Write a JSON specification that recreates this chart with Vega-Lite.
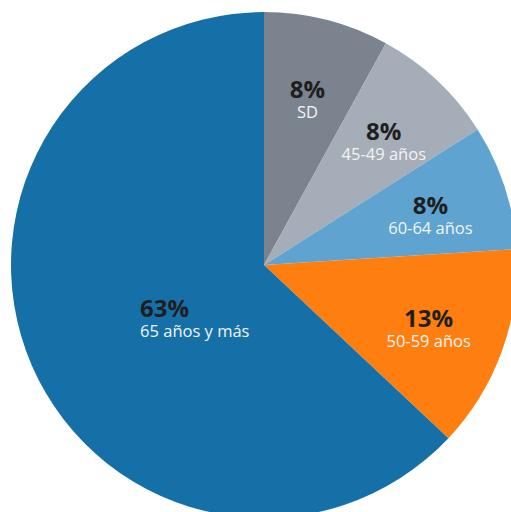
{
  "$schema": "https://vega.github.io/schema/vega-lite/v6.json",
  "width": 528,
  "height": 530,
  "padding": 0,
  "autosize": {"type": "none"},
  "background": "white",
  "view": {"stroke": null},
  "data": {
    "values": [
      {"grupo": "SD", "pct": 8, "orden": 1},
      {"grupo": "45-49 años", "pct": 8, "orden": 2},
      {"grupo": "60-64 años", "pct": 8, "orden": 3},
      {"grupo": "50-59 años", "pct": 13, "orden": 4},
      {"grupo": "65 años y más", "pct": 63, "orden": 5}
    ]
  },
  "transform": [{"calculate": "datum.pct + '%'", "as": "pctLabel"}],
  "encoding": {
    "theta": {"field": "pct", "type": "quantitative", "stack": true},
    "order": {"field": "orden", "type": "quantitative"}
  },
  "layer": [
    {
      "mark": {"type": "arc", "outerRadius": 253, "stroke": null},
      "encoding": {
        "color": {
          "field": "grupo",
          "type": "nominal",
          "scale": {
            "domain": ["SD", "45-49 años", "60-64 años", "50-59 años", "65 años y más"],
            "range": ["#7b838e", "#a4adb8", "#5fa3d0", "#fe7f0f", "#1570a8"]
          },
          "legend": null
        }
      }
    },
    {
      "mark": {"type": "text", "radius": 175, "font": "Open Sans", "fontSize": 24, "fontWeight": "bold", "color": "#1f1f1f", "dy": -4, "baseline": "middle", "align": "center"},
      "encoding": {
        "text": {"condition": {"test": "datum.pct < 50", "field": "pctLabel"}, "value": ""}
      }
    },
    {
      "mark": {"type": "text", "radius": 175, "font": "Open Sans", "fontSize": 16.5, "color": "#f4f4f4", "dy": 18, "baseline": "middle", "align": "center"},
      "encoding": {
        "text": {"condition": {"test": "datum.pct < 50", "field": "grupo"}, "value": ""}
      }
    },
    {
      "mark": {"type": "text", "radius": 135, "font": "Open Sans", "fontSize": 24, "fontWeight": "bold", "color": "#1f1f1f", "dy": -9, "baseline": "middle", "align": "left"},
      "encoding": {
        "text": {"condition": {"test": "datum.pct >= 50", "field": "pctLabel"}, "value": ""}
      }
    },
    {
      "mark": {"type": "text", "radius": 135, "font": "Open Sans", "fontSize": 16.5, "color": "#f4f4f4", "dy": 13, "baseline": "middle", "align": "left"},
      "encoding": {
        "text": {"condition": {"test": "datum.pct >= 50", "field": "grupo"}, "value": ""}
      }
    }
  ]
}
